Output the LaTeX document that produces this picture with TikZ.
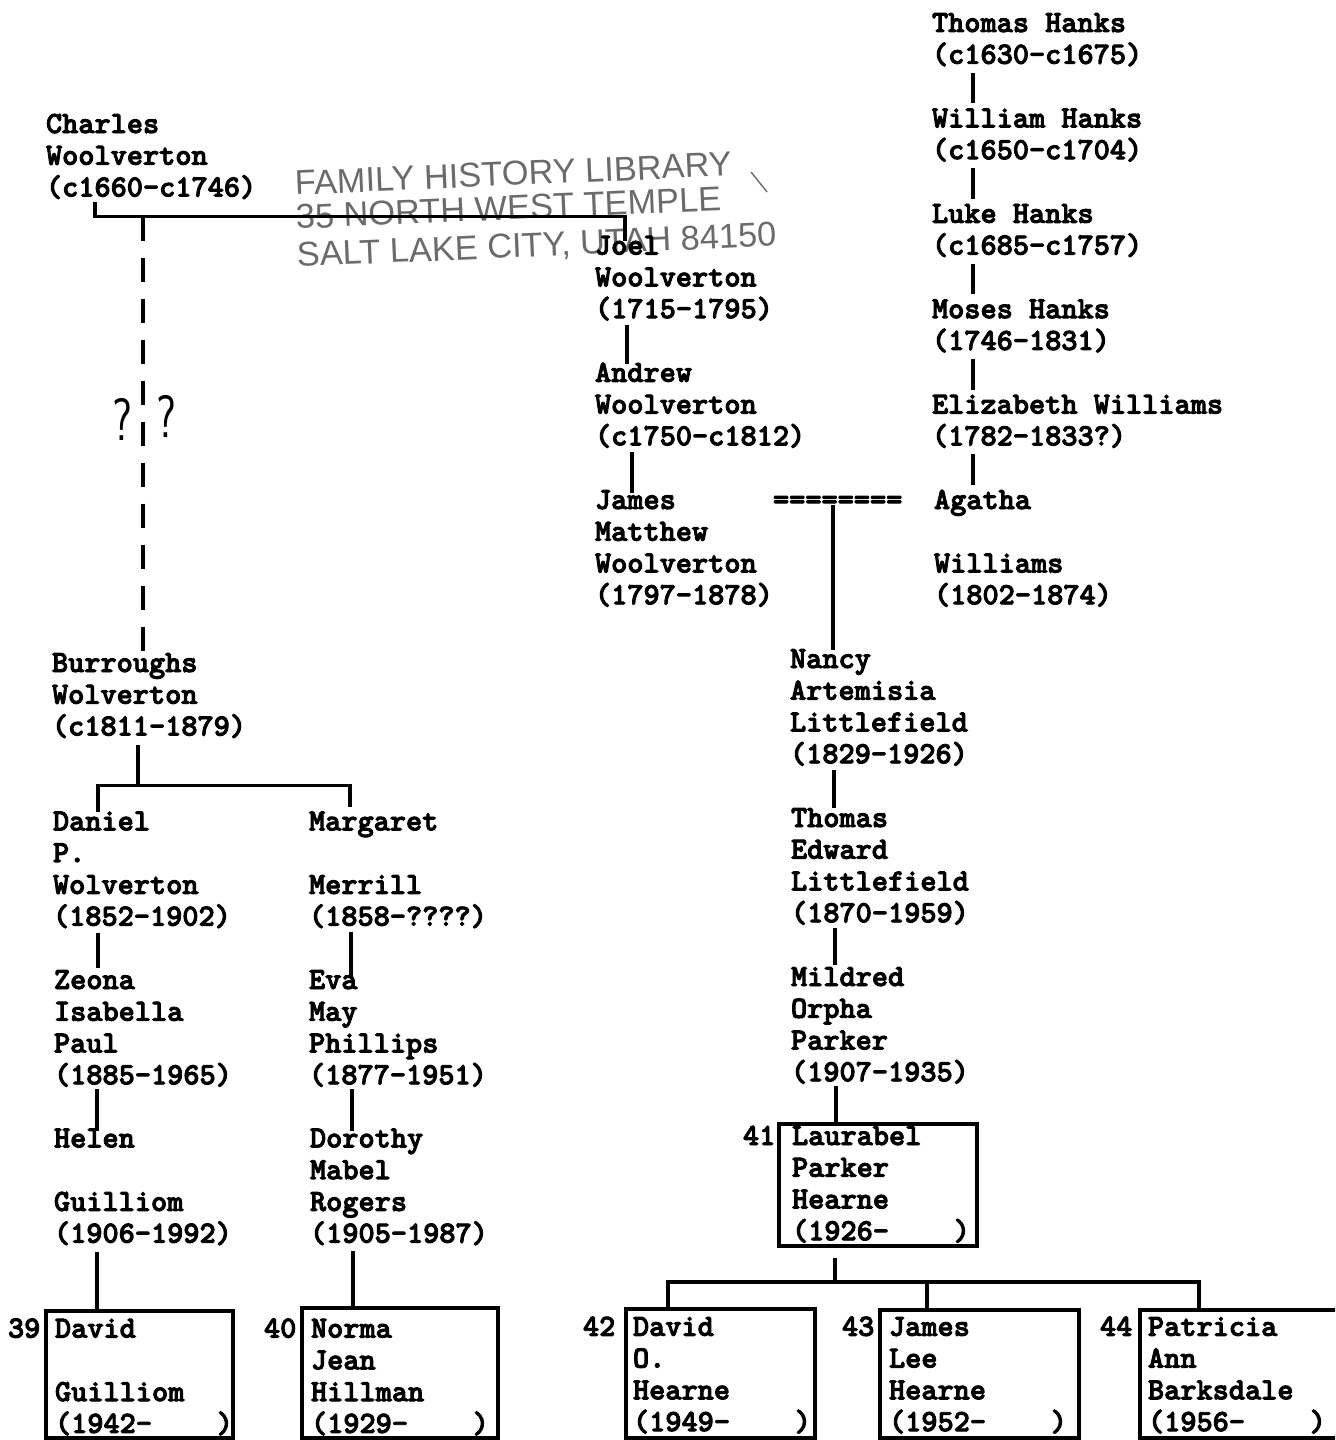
\documentclass[tikz,border=0pt]{standalone}
\usepackage{fontspec}
\usetikzlibrary{calc}
\newfontfamily\dmfont{lmmonolt10-bold.otf}[FakeBold=3]
\newfontfamily\stampfont{Liberation Sans}
\definecolor{stampgray}{gray}{0.42}
\tikzset{
  txt/.style={anchor=base west, inner sep=0pt, outer sep=0pt, font=\fontsize{15.4pt}{16pt}\dmfont},
  conn/.style={line width=1.6pt},
  gapline/.style={line width=1.6pt, dash pattern=on 12pt off 8.5pt},
  famBox/.style={draw, line width=1.6pt, anchor=north west, inner sep=0pt, outer sep=0pt},
  stamp/.style={anchor=base west, inner sep=0pt, text=stampgray, font=\fontsize{17.2pt}{18pt}\stampfont, rotate=2.5},
  qmark/.style={anchor=base, inner sep=0pt, font=\fontsize{30pt}{30pt}\sffamily, xscale=0.75}
}
\newcommand\pers[4]{%
  \foreach \t [count=\i] in {#4}{%
    \node[txt] (#1\i) at (#2,{#3+(\i-1)*31.75}) {\t};
  }%
}
\begin{document}
\begin{tikzpicture}[x=0.5pt,y=-0.5pt]
\useasboundingbox (0,0) rectangle (1335,1440);
\fill[white] (0,0) rectangle (1335,1440);
\clip (0,0) rectangle (1335,1440);

% library stamp
\node[stamp] (st1) at (295,195) {FAMILY HISTORY LIBRARY};
\node[stamp] (st2) at (296,229) {35 NORTH WEST TEMPLE};
\node[stamp] (st3) at (297,267) {SALT LAKE CITY, UTAH 84150};
\draw[stampgray, line width=0.7pt] (751,172) -- (767,192);

% right column
\pers{th}{932}{32}{{Thomas Hanks},{(c1630-c1675)}}
\pers{wh}{932}{127.4}{{William Hanks},{(c1650-c1704)}}
\pers{lh}{932}{222.8}{{Luke Hanks},{(c1685-c1757)}}
\pers{mh}{932}{318.2}{{Moses Hanks},{(1746-1831)}}
\pers{ew}{932}{413.6}{{Elizabeth Williams},{(1782-1833?)}}
\pers{ag}{934}{509}{{Agatha},{},{Williams},{(1802-1874)}}

% middle column
\pers{jo}{595}{254.6}{{Joel},{Woolverton},{(1715-1795)}}
\pers{an}{595}{381.8}{{Andrew},{Woolverton},{(c1750-c1812)}}
\pers{ja}{595}{509}{{James},{Matthew},{Woolverton},{(1797-1878)}}
\node[txt] (eq) at (773,509) {========};
\pers{na}{790}{668}{{Nancy},{Artemisia},{Littlefield},{(1829-1926)}}
\pers{te}{791}{827}{{Thomas},{Edward},{Littlefield},{(1870-1959)}}
\pers{mi}{791}{986}{{Mildred},{Orpha},{Parker},{(1907-1935)}}
\node[famBox, minimum width=99pt, minimum height=61pt] (bx41) at (779,1124) {};
\node[txt] (n41) at (743,1145) {41};
\pers{la}{792}{1145}{{Laurabel},{Parker},{Hearne},{(1926-~~~~)}}

\node[famBox, minimum width=94.5pt, minimum height=64.5pt] (bx42) at (626,1309) {};
\node[txt] (n42) at (583,1335.8) {42};
\pers{dh}{633}{1335.8}{{David},{O.},{Hearne},{(1949-~~~~)}}
\node[famBox, minimum width=99.5pt, minimum height=64pt] (bx43) at (880,1310) {};
\node[txt] (n43) at (842,1335.8) {43};
\pers{jl}{889}{1335.8}{{James},{Lee},{Hearne},{(1952-~~~~)}}
\node[famBox, minimum width=110pt, minimum height=64pt] (bx44) at (1140,1310) {};
\node[txt] (n44) at (1100,1335.8) {44};
\pers{pa}{1148}{1335.8}{{Patricia},{Ann},{Barksdale},{(1956-~~~~)}}

% left column
\pers{ch}{46}{133}{{Charles},{Woolverton},{(c1660-c1746)}}
\pers{bw}{52}{672}{{Burroughs},{Wolverton},{(c1811-1879)}}
\pers{da}{53}{830.4}{{Daniel},{P.},{Wolverton},{(1852-1902)}}
\pers{ma}{309}{830.4}{{Margaret},{},{Merrill},{(1858-????)}}
\pers{ze}{54}{989}{{Zeona},{Isabella},{Paul},{(1885-1965)}}
\pers{ev}{309}{989}{{Eva},{May},{Phillips},{(1877-1951)}}
\pers{he}{54}{1147.4}{{Helen},{},{Guilliom},{(1906-1992)}}
\pers{dm}{310}{1147.4}{{Dorothy},{Mabel},{Rogers},{(1905-1987)}}
\node[famBox, minimum width=93.5pt, minimum height=63.5pt] (bx39) at (46,1311) {};
\node[txt] (n39) at (8,1337.6) {39};
\pers{dg}{55}{1337.6}{{David},{},{Guilliom},{(1942-~~~~)}}
\node[famBox, minimum width=98pt, minimum height=65pt] (bx40) at (302,1308) {};
\node[txt] (n40) at (264,1337.6) {40};
\pers{nj}{311}{1337.6}{{Norma},{Jean},{Hillman},{(1929-~~~~)}}

\node[qmark] (q1) at (122,440) {?};
\node[qmark] (q2) at (166,437) {?};

% connectors: right column
\draw[conn] ($(th2.base west)+(41,9)$) -- ($(wh1.base west)+(41,-24)$);
\draw[conn] ($(wh2.base west)+(41,9)$) -- ($(lh1.base west)+(41,-24)$);
\draw[conn] ($(lh2.base west)+(41,9)$) -- ($(mh1.base west)+(41,-24)$);
\draw[conn] ($(mh2.base west)+(41,9)$) -- ($(ew1.base west)+(41,-24)$);
\draw[conn] ($(ew2.base west)+(41,9)$) -- ($(ag1.base west)+(39,-24)$);

% connectors: middle
\draw[conn] ($(jo3.base west)+(32,7)$) -- ($(an1.base west)+(32,-18)$);
\draw[conn] ($(an3.base west)+(37,7)$) -- ($(ja1.base west)+(37,-16)$);
\draw[conn] ($(eq.base west)+(60,-4)$) -- ($(na1.base west)+(43,-18)$);
\draw[conn] ($(na4.base west)+(44,7)$) -- ($(te1.base west)+(43,-19)$);
\draw[conn] ($(te4.base west)+(44,6)$) -- ($(mi1.base west)+(44,-21)$);
\draw[conn] ($(mi4.base west)+(45,5)$) -- ($(bx41.north west)+(57,0)$);
\draw[conn] ($(bx41.south west)+(56,12)$) -- ($(bx41.south west)+(56,36)$);
\draw[conn] ($(bx42.north west)+(42,0)$) |- ($(bx44.north west)+(59,-28)$) -- ($(bx44.north west)+(59,0)$);
\draw[conn] ($(bx43.north west)+(47,0)$) -- ($(bx43.north west)+(47,-28)$);

% connectors: left
\draw[conn] ($(ch3.base west)+(49,5)$) |- ($(jo1.base west)+(30,-38)$) -- ($(jo1.base west)+(30,-14)$);
\draw[gapline] ($(ch3.base west)+(97,20)$) -- ($(bw1.base west)+(91,-20)$);
\draw[conn] ($(bw3.base west)+(86,9)$) -- ($(bw3.base west)+(86,50)$);
\draw[conn] ($(da1.base west)+(45,-18)$) |- ($(ma1.base west)+(41,-45)$) -- ($(ma1.base west)+(41,-23)$);
\draw[conn] ($(da4.base west)+(45,7)$) -- ($(ze1.base west)+(44,-21)$);
\draw[conn] ($(ma4.base west)+(42,6)$) -- ($(ev1.base west)+(42,-12)$);
\draw[conn] ($(ze4.base west)+(43,5)$) -- ($(he1.base west)+(43,-16)$);
\draw[conn] ($(ev4.base west)+(43,5)$) -- ($(dm1.base west)+(42,-16)$);
\draw[conn] ($(he4.base west)+(43,9)$) -- ($(bx39.north west)+(51,0)$);
\draw[conn] ($(dm4.base west)+(43,8)$) -- ($(bx40.north west)+(51,0)$);
\end{tikzpicture}
\end{document}
